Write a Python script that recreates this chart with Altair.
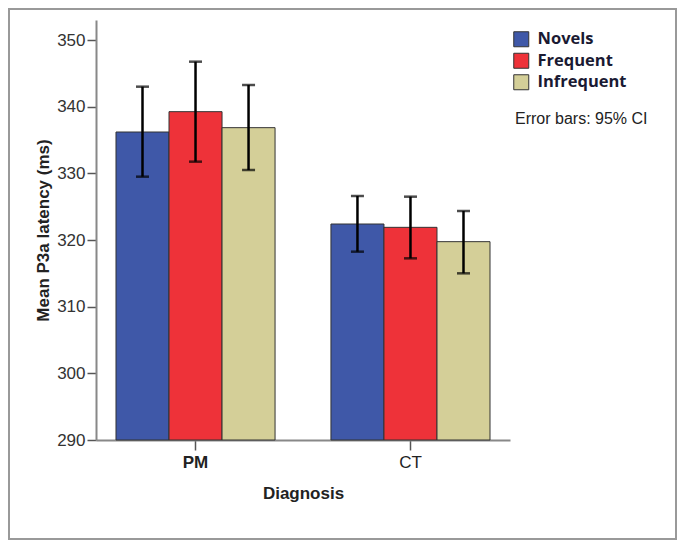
import altair as alt
import pandas as pd

groups = ["PM", "CT"]
conditions = ["Novels", "Frequent", "Infrequent"]
means = {"PM": [336.2, 339.25, 336.85], "CT": [322.4, 321.9, 319.75]}
lower = {"PM": [329.5, 331.75, 330.5], "CT": [318.25, 317.25, 315.0]}
upper = {"PM": [343.0, 346.75, 343.25], "CT": [326.6, 326.5, 324.35]}
colors = ["#3F58A8", "#EE3239", "#D4CF98"]

rows = []
for g in groups:
    for i, c in enumerate(conditions):
        rows.append({"Diagnosis": g, "Condition": c, "mean": means[g][i],
                     "lo": lower[g][i], "hi": upper[g][i]})
df = pd.DataFrame(rows)

W, H = 414, 420
PAD_L, PAD_T = 88, 12
PAD_R = 669 - PAD_L - W
PAD_B = 100

x_enc = alt.X("Diagnosis:N", sort=groups,
              scale=alt.Scale(paddingInner=0.26, paddingOuter=0.093),
              axis=alt.Axis(title="Diagnosis", labelAngle=0, labelFontSize=17,
                            labelFont="Liberation Sans", labelColor="#222",
                            labelFontWeight={"condition": {"test": "datum.value == 'PM'", "value": "bold"}, "value": "normal"},
                            labelPadding=4, tickSize=10, tickColor="#555", tickWidth=1.5,
                            domainColor="#888", domainWidth=2,
                            titleFont="Liberation Sans", titleFontSize=17, titleFontWeight="bold",
                            titleColor="#222", titlePadding=15))
xo_enc = alt.XOffset("Condition:N", sort=conditions, scale=alt.Scale(paddingInner=0, paddingOuter=0))

y_scale = alt.Scale(domain=[290, 353], nice=False, zero=False)

bars = alt.Chart(df).mark_bar(stroke="#333", strokeWidth=1).encode(
    x=x_enc, xOffset=xo_enc,
    y=alt.Y("mean:Q", scale=y_scale,
            axis=alt.Axis(title="Mean P3a latency (ms)", values=[290, 300, 310, 320, 330, 340, 350],
                          grid=False, labelFontSize=17, labelFont="Liberation Sans", labelColor="#333",
                          tickSize=9, tickColor="#555", tickWidth=1.5, labelPadding=2,
                          domainColor="#888", domainWidth=2,
                          titleFont="Liberation Sans", titleFontSize=17, titleFontWeight="bold",
                          titleColor="#222", titlePadding=4)),
    y2=alt.datum(290),
    color=alt.Color("Condition:N", sort=conditions,
                    scale=alt.Scale(domain=conditions, range=colors),
                    legend=alt.Legend(title=None, orient="none", legendX=417, legendY=11,
                                      symbolType="square", symbolSize=225,
                                      symbolStrokeColor="#333", symbolStrokeWidth=1,
                                      symbolOpacity=1,
                                      labelFont="Open Sans", labelFontSize=16.5, labelFontWeight="bold",
                                      labelColor="#1a1a33", labelOffset=8, rowPadding=1.5,
                                      padding=0)),
)

rules = alt.Chart(df).mark_rule(color="black", strokeWidth=2.5).encode(
    x=x_enc, xOffset=xo_enc,
    y=alt.Y("lo:Q", scale=y_scale), y2="hi:Q")

caps_hi = alt.Chart(df).mark_tick(color="black", size=13, thickness=2.5).encode(
    x=x_enc, xOffset=xo_enc, y=alt.Y("hi:Q", scale=y_scale))
caps_lo = alt.Chart(df).mark_tick(color="black", size=13, thickness=2.5).encode(
    x=x_enc, xOffset=xo_enc, y=alt.Y("lo:Q", scale=y_scale))

note = alt.Chart(alt.Data(values=[{"t": "Error bars: 95% CI"}])).mark_text(
    align="left", baseline="middle", font="Liberation Sans", fontSize=16, color="#222").encode(
    text="t:N", x=alt.value(419), y=alt.value(99))

frame = alt.Chart(alt.Data(values=[{}])).mark_rect(fill=None, stroke="#999", strokeWidth=2).encode(
    x=alt.value(-PAD_L + 1), x2=alt.value(W + PAD_R - 1),
    y=alt.value(-PAD_T + 1), y2=alt.value(H + PAD_B - 1))

chart = alt.layer(bars, rules, caps_hi, caps_lo, note, frame).properties(
    width=W, height=H,
    autosize=alt.AutoSizeParams(type="none"),
    padding={"left": PAD_L, "top": PAD_T, "right": PAD_R, "bottom": PAD_B},
    background="white",
    view=alt.ViewBackground(stroke="transparent", strokeWidth=0),
).configure_view(stroke="transparent", strokeWidth=0)

chart.save("out.html", embed_options={"renderer": "svg", "actions": False})
